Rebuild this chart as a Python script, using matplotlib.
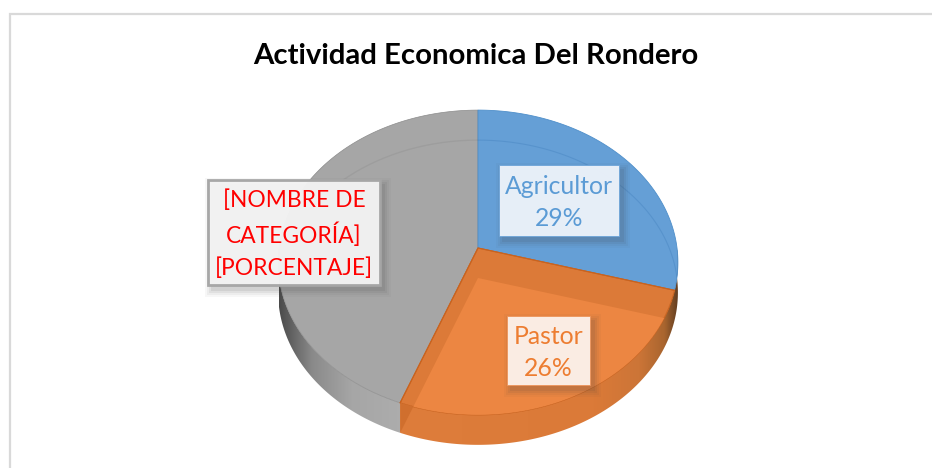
"""Activity pie with tilted 3D look, drawn on a pixel-sized axes."""
import numpy as np
import matplotlib
matplotlib.use("Agg")
import matplotlib.pyplot as plt
from matplotlib.colors import LinearSegmentedColormap
from matplotlib.patches import Polygon, Rectangle

TITLE = "Actividad Economica Del Rondero"
CATEGORIES = ["Agricultor", "Pastor", "Otros"]
SHARES = [29.4, 26.4, 44.2]
LABELS = ["Agricultor\n29%", "Pastor\n26%", "[NOMBRE DE\nCATEGORÍA]\n[PORCENTAJE]"]

CX, AY, SX, SY, PERSP, DEPTH = 478, 248, 199, 151, 0.095, 30
plt.rcParams["font.family"] = ["Lato", "DejaVu Sans"]


def rim(t, dy=0):
    u, v = np.sin(t), np.cos(t)
    w = 1 + PERSP * v
    return np.column_stack([CX + SX * u / w, AY - SY * v / w + dy])


def wedge(t0, t1, dy=0):
    return np.vstack([[CX, AY + dy], rim(np.linspace(t0, t1, 160), dy)])


def side(ax, t0, t1, stops, extent):
    ts = np.linspace(t0, t1, 160)
    pts = np.vstack([rim(ts), rim(ts, DEPTH)[::-1]])
    clip = Polygon(pts, closed=True, fc="none", ec="none")
    ax.add_patch(clip)
    cmap = LinearSegmentedColormap.from_list("side", stops)
    im = ax.imshow(np.linspace(0, 1, 256)[None, :], extent=extent, cmap=cmap, aspect="auto", zorder=1)
    im.set_clip_path(clip)


def label_box(ax, x0, y0, x1, y1, fc, ec, lw):
    for grow, a in [(7, 0.04), (5, 0.05), (3, 0.07), (1, 0.09)]:
        ax.add_patch(Rectangle((x0 + 4 - grow, y0 + 5 - grow), x1 - x0 + 2 * grow, y1 - y0 + 2 * grow,
                               fc="#404040", ec="none", alpha=a, zorder=5))
    ax.add_patch(Rectangle((x0, y0), x1 - x0, y1 - y0, fc=fc, ec=ec, lw=lw, alpha=0.97, zorder=6))


fig = plt.figure(figsize=(9.32, 4.68), dpi=100, facecolor="white")
ax = fig.add_axes([0, 0, 1, 1])
ax.axis("off")

cum = np.cumsum([0] + SHARES) / 100 * 2 * np.pi
a_blue, a_orange, a_end = cum[1], cum[2], cum[3]
t_left = 1.5 * np.pi

side(ax, a_orange, t_left, [(0, "#4a4a4a"), (0.25, "#8a8a8a"), (0.55, "#a6a6a6"), (1, "#aeaeae")],
     (279, 412, 460, 250))
side(ax, np.pi / 2, a_orange,
     [(0, "#de7d3b"), (0.7, "#db7a38"), (0.86, "#cc7537"), (0.95, "#a9652f"), (1, "#5e3c20")],
     (396, 679, 460, 250))

top_gray = Polygon(wedge(a_orange, a_end), closed=True, fc="#a6a6a6", ec="#8c8c8c", lw=0.5, zorder=2)
top_blue = Polygon(wedge(0, a_blue), closed=True, fc="#659fd6", ec="#4f8fca", lw=0.6, zorder=2)
top_orange = Polygon(wedge(a_blue, a_orange), closed=True, fc="#dc7a38", ec="#c9631f", lw=0.8, zorder=2)
for p in (top_gray, top_blue, top_orange):
    ax.add_patch(p)

# lower face showing through the top one
lower = Polygon(wedge(a_blue, a_orange, DEPTH), closed=True, fc="#ec8642", ec="none", zorder=3)
ax.add_patch(lower)
lower.set_clip_path(top_orange)
ax.plot(*wedge(a_blue, a_orange)[[1, 0, -1]].T, color="#c9631f", lw=0.8, zorder=4)

# same seam carried down the side wall
front = rim(np.array([a_orange]))[0]
low_end = rim(np.array([a_orange]), DEPTH)[0]
low_apex = np.array([CX, AY + DEPTH])
seam = low_end + 0.17 * (low_apex - low_end)
ax.add_patch(Polygon([front, low_end, seam], closed=True, fc="#d06f2e", ec="none", zorder=2))

back = rim(np.linspace(-np.pi * 0.5, np.pi * 0.5, 200), DEPTH)
ln, = ax.plot(back[:, 0], back[:, 1], color="#000000", alpha=0.05, lw=1.0, zorder=3)
ln.set_clip_path(top_gray)
ln2, = ax.plot(back[:, 0], back[:, 1], color="#2f6fb0", alpha=0.25, lw=0.8, zorder=3)
ln2.set_clip_path(top_blue)

label_box(ax, 499, 165, 619, 236, "#ecf2fa", "#6aa3d8", 0.6)
label_box(ax, 507, 316, 590, 385, "#fdf1e9", "#ee9358", 0.6)
label_box(ax, 208, 180, 380, 285, "#f3f3f3", "#a5a5a5", 2.0)

ax.text(559, 202.5, LABELS[0], color="#5b9bd5", fontsize=17.8, ha="center", va="center", linespacing=1.5, zorder=7)
ax.text(548.5, 352.5, LABELS[1], color="#ed7d31", fontsize=17.8, ha="center", va="center", linespacing=1.5, zorder=7)
ax.text(294, 234, LABELS[2], color="#ff0000", fontsize=16.4, ha="center", va="center", linespacing=1.58, zorder=7)

ax.text(476, 56, TITLE, color="#000000", fontsize=21.2, fontweight="bold", ha="center", va="center", zorder=7)

ax.plot([10, 10, 932], [468, 14, 14], color="#d9d9d9", lw=1.6, zorder=8, solid_joinstyle="miter")

ax.set_xlim(0, 932)
ax.set_ylim(468, 0)
fig.savefig("out.png", dpi=100)
